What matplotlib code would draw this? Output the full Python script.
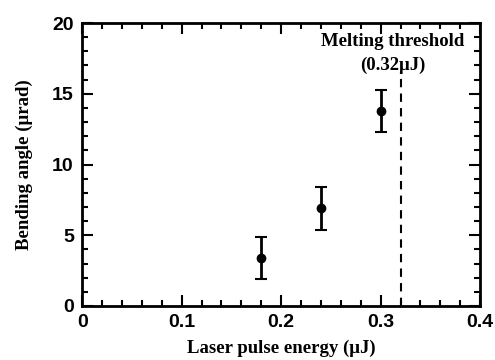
import numpy as np
import matplotlib.pyplot as plt
from matplotlib.ticker import MultipleLocator

# bending angle vs laser pulse energy
energy = [0.18, 0.24, 0.30]
angle = [3.4, 6.9, 13.8]
angle_err = [1.5, 1.5, 1.5]
threshold = 0.32

fig = plt.figure(figsize=(4.95, 3.6), dpi=100)
ax = fig.add_axes([0.166, 0.15, 0.804, 0.786])

ax.errorbar(energy, angle, yerr=angle_err, fmt='o', color='black', ms=6,
            elinewidth=2, capsize=4, capthick=1.5)
ax.plot([threshold, threshold], [0, 16.2], color='black', ls=(0, (4, 3)), lw=1.5)

ax.text(0.3125, 18.7, 'Melting threshold', ha='center', va='center',
        family='Liberation Serif', weight='bold', fontsize=13.5)
ax.text(0.3125, 17.0, '(0.32μJ)', ha='center', va='center',
        family='Liberation Serif', weight='bold', fontsize=13.5)

ax.set_xlim(0, 0.4)
ax.set_ylim(0, 20)
ax.xaxis.set_major_locator(MultipleLocator(0.1))
ax.xaxis.set_minor_locator(MultipleLocator(0.02))
ax.yaxis.set_major_locator(MultipleLocator(5))
ax.yaxis.set_minor_locator(MultipleLocator(1))
ax.xaxis.set_major_formatter(plt.FuncFormatter(lambda v, p: '0' if v == 0 else f'{v:.1f}'))

ax.tick_params(which='both', direction='in', top=True, right=True, width=1.5)
ax.tick_params(which='major', length=8, labelsize=14, pad=6)
ax.tick_params(which='minor', length=4)
for lab in ax.get_xticklabels() + ax.get_yticklabels():
    lab.set_family('Liberation Sans')
    lab.set_weight('bold')
for s in ax.spines.values():
    s.set_linewidth(2)

ax.set_xlabel('Laser pulse energy (μJ)', family='Liberation Serif', weight='bold', fontsize=13.5, labelpad=6)
ax.set_ylabel('Bending angle (μrad)', family='Liberation Serif', weight='bold', fontsize=13.5, labelpad=14)

fig.savefig('out.png')
